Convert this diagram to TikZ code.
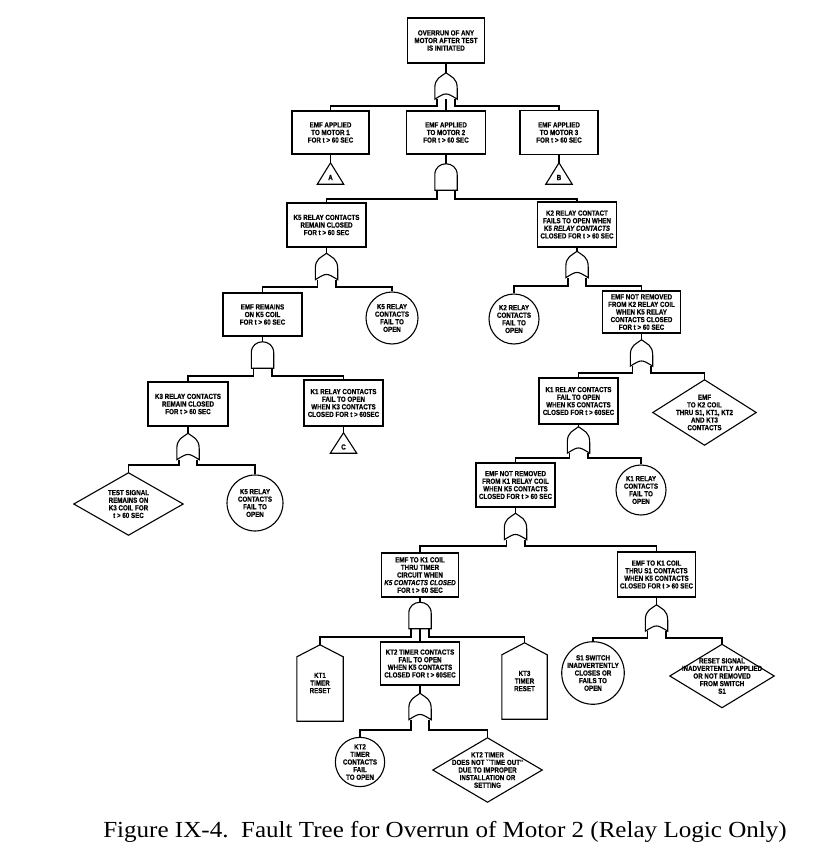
\documentclass[tikz,border=0pt]{standalone}
\usepackage{fontspec}
\setmainfont{Liberation Serif}
\newfontfamily\boxfont{Liberation Sans}[FakeStretch=0.84, FakeBold=0.5]
\newfontfamily\capfont{Liberation Serif}[FakeStretch=1.09]
\usetikzlibrary{calc}
\tikzset{
  every node/.style={font=\boxfont\bfseries\fontsize{7.4}{7.6}\selectfont, align=center, inner sep=0pt},
  evbox/.style 2 args={draw, line width=1.1pt, minimum width=#1, minimum height=#2},
  circ/.style={circle, draw, line width=1.1pt, minimum size=#1},
  frame/.style 2 args={minimum width=#1, minimum height=#2},
  shapeline/.style={line width=1.1pt, line join=miter},
  link/.style={line width=1.6pt},
  tlabel/.style={label={[yshift=-4pt]center:#1}}
}
\newcommand\orshape[1]{\draw[shapeline] (#1.south west) -- ($(#1.south west)+(0,-11)$) .. controls ($(#1.north west)+(0,5)$) and ($(#1.north)+(-5,4)$) .. (#1.north) .. controls ($(#1.north)+(5,4)$) and ($(#1.north east)+(0,5)$) .. ($(#1.south east)+(0,-11)$) -- (#1.south east) .. controls ($(#1.south)+(0,-7)$) .. (#1.south west) -- cycle;}
\newcommand\andshape[1]{\draw[shapeline] (#1.south west) -- ($(#1.north west)+(0,11)$) .. controls ($(#1.north west)+(0,-3.67)$) and ($(#1.north east)+(0,-3.67)$) .. ($(#1.north east)+(0,11)$) -- (#1.south east) -- cycle;}
\newcommand\houseshape[1]{\draw[shapeline] (#1.north) -- ($(#1.north east)+(0,12)$) -- (#1.south east) -- (#1.south west) -- ($(#1.north west)+(0,12)$) -- cycle;}
\newcommand\diashape[1]{\draw[shapeline] (#1.north) -- (#1.east) -- (#1.south) -- (#1.west) -- cycle;}
\newcommand\trishape[1]{\draw[shapeline] (#1.north) -- (#1.south east) -- (#1.south west) -- cycle;}
\newcommand\legs[4]{% gate, gap, left child, right child
  \draw[link] ($(#1.south west)+(2,0)$) -- ++(0,#2) -| (#3.north);
  \draw[link] ($(#1.south east)+(-2,0)$) -- ++(0,#2) -| (#4.north);}
\begin{document}
\begin{tikzpicture}[x=1pt,y=-1pt]
\useasboundingbox (0,0) rectangle (836,853);
% level 0
\node[evbox={77}{45}] (top) at (446,40.5) {OVERRUN OF ANY\\MOTOR AFTER TEST\\IS INITIATED};
\node[frame={22}{26}] (g0) at (446,86) {};
\orshape{g0}
\node[evbox={77}{43}] (m1) at (330.5,132.5) {EMF APPLIED\\TO MOTOR 1\\FOR t > 60 SEC};
\node[evbox={79}{43}] (m2) at (446,132.5) {EMF APPLIED\\TO MOTOR 2\\FOR t > 60 SEC};
\node[evbox={78}{44}] (m3) at (559,132.5) {EMF APPLIED\\TO MOTOR 3\\FOR t > 60 SEC};
\draw[link] (top.south) -- (g0.north);
\draw[link] (g0.south) -- (m2.north);
\legs{g0}{7}{m1}{m3}
\node[frame={26}{21}, tlabel=A] (ta) at (330.5,173.5) {};
\trishape{ta}
\node[frame={26}{21}, tlabel=B] (tb) at (559,173.5) {};
\trishape{tb}
\draw[link] (m1.south) -- (ta.north);
\draw[link] (m3.south) -- (tb.north);
\node[frame={22}{26}] (g1) at (446,177) {};
\andshape{g1}
\draw[link] (m2.south) -- (g1.north);
% level 2
\node[evbox={79}{44}] (k5) at (326.5,225) {K5 RELAY CONTACTS\\REMAIN CLOSED\\FOR t > 60 SEC};
\node[evbox={79}{45}] (k2) at (577,224.5) {K2 RELAY CONTACT\\FAILS TO OPEN WHEN\\K5 \textit{RELAY CONTACTS}\\CLOSED FOR t > 60 SEC};
\legs{g1}{9}{k5}{k2}
% left branch
\node[frame={22}{26}] (g2) at (326.5,266.5) {};
\orshape{g2}
\draw[link] (k5.south) -- (g2.north);
\node[evbox={79}{43}] (emf5) at (262.5,314.5) {EMF REMAINS\\ON K5 COIL\\FOR t > 60 SEC};
\node[circ=52] (c5a) at (392,318) {K5 RELAY\\CONTACTS\\FAIL TO\\OPEN};
\legs{g2}{7}{emf5}{c5a}
\node[frame={22}{26}] (g3) at (262.5,355) {};
\andshape{g3}
\draw[link] (emf5.south) -- (g3.north);
\node[evbox={80}{44}] (k3) at (188,404) {K3 RELAY CONTACTS\\REMAIN CLOSED\\FOR t > 60 SEC};
\node[evbox={79}{46}] (k1l) at (343.5,403) {K1 RELAY CONTACTS\\FAIL TO OPEN\\WHEN K3 CONTACTS\\CLOSED FOR t > 60SEC};
\legs{g3}{8}{k3}{k1l}
\node[frame={26}{20}, tlabel=C] (tc) at (343.5,443) {};
\trishape{tc}
\draw[link] (k1l.south) -- (tc.north);
\node[frame={22}{26}] (g4) at (188,446.5) {};
\orshape{g4}
\draw[link] (k3.south) -- (g4.north);
\node[frame={109}{62}] (dts) at (128.5,504) {TEST SIGNAL\\REMAINS ON\\K3 COIL FOR\\t > 60 SEC};
\diashape{dts}
\node[circ=56] (c5b) at (255,503) {K5 RELAY\\CONTACTS\\FAIL TO\\OPEN};
\legs{g4}{5}{dts}{c5b}
% right branch
\node[frame={22}{26}] (g5) at (577,264.5) {};
\orshape{g5}
\draw[link] (k2.south) -- (g5.north);
\node[circ=50] (c2) at (514,319) {K2 RELAY\\CONTACTS\\FAIL TO\\OPEN};
\node[evbox={78}{42}] (emfk2) at (641.5,312) {EMF NOT REMOVED\\FROM K2 RELAY COIL\\WHEN K5 RELAY\\CONTACTS CLOSED\\FOR t > 60 SEC};
\legs{g5}{8.5}{c2}{emfk2}
\node[frame={22}{26}] (g6) at (641.5,353) {};
\orshape{g6}
\draw[link] (emfk2.south) -- (g6.north);
\node[evbox={79}{46}] (k1r) at (578.5,401) {K1 RELAY CONTACTS\\FAIL TO OPEN\\WHEN K5 CONTACTS\\CLOSED FOR t > 60SEC};
\node[frame={103}{65}] (demf) at (704.5,412.5) {EMF\\TO K2 COIL\\THRU S1, KT1, KT2\\AND KT3\\CONTACTS};
\diashape{demf}
\legs{g6}{7}{k1r}{demf}
\node[frame={22}{26}] (g7) at (578.5,440) {};
\orshape{g7}
\draw[link] (k1r.south) -- (g7.north);
\node[evbox={79}{44}] (emfk1) at (515.5,485) {EMF NOT REMOVED\\FROM K1 RELAY COIL\\WHEN K5 CONTACTS\\CLOSED FOR t > 60 SEC};
\node[circ=50] (c1) at (641,490) {K1 RELAY\\CONTACTS\\FAIL TO\\OPEN};
\legs{g7}{5}{emfk1}{c1}
\node[frame={22}{26}] (g8) at (515.5,526.5) {};
\orshape{g8}
\draw[link] (emfk1.south) -- (g8.north);
\node[evbox={77}{44}] (emft) at (420,575) {EMF TO K1 COIL\\THRU TIMER\\CIRCUIT WHEN\\\textit{K5 CONTACTS CLOSED}\\FOR t > 60 SEC};
\node[evbox={78}{45}] (emfs) at (656.5,574.5) {EMF TO K1 COIL\\THRU S1 CONTACTS\\WHEN K5 CONTACTS\\CLOSED FOR t > 60 SEC};
\legs{g8}{6.5}{emft}{emfs}
% timer branch
\node[frame={22}{26}] (g9) at (420,615.5) {};
\andshape{g9}
\draw[link] (emft.south) -- (g9.north);
\node[frame={46}{76}] (kt1) at (320,683) {KT1\\TIMER\\RESET};
\houseshape{kt1}
\node[evbox={79}{43}] (kt2) at (420,663.5) {KT2 TIMER CONTACTS\\FAIL TO OPEN\\WHEN K5 CONTACTS\\CLOSED FOR t > 60SEC};
\node[frame={45}{76}] (kt3) at (524.5,681) {KT3\\TIMER\\RESET};
\houseshape{kt3}
\draw[link] (g9.south) -- (kt2.north);
\legs{g9}{8.5}{kt1}{kt3}
\node[frame={22}{26}] (g10) at (420,706.5) {};
\orshape{g10}
\draw[link] (kt2.south) -- (g10.north);
\node[circ=46] (ckt2) at (360,762) {KT2\\TIMER\\CONTACTS\\FAIL\\TO OPEN};
\node[frame={109}{64}] (dkt2) at (487.5,770) {KT2 TIMER\\DOES NOT ``TIME OUT''\\DUE TO IMPROPER\\INSTALLATION OR\\SETTING};
\diashape{dkt2}
\legs{g10}{10}{ckt2}{dkt2}
% S1 branch
\node[frame={22}{26}] (g11) at (656.5,618) {};
\orshape{g11}
\draw[link] (emfs.south) -- (g11.north);
\node[circ=54] (cs1) at (593,673) {S1 SWITCH\\INADVERTENTLY\\CLOSES OR\\FAILS TO\\OPEN};
\node[frame={104}{63}] (dres) at (722,676) {RESET SIGNAL\\INADVERTENTLY APPLIED\\OR NOT REMOVED\\FROM SWITCH\\S1};
\diashape{dres}
\legs{g11}{7}{cs1}{dres}
% caption
\node[font=\capfont\fontsize{23}{26}\selectfont, anchor=base] (cap) at (445,837) {Figure IX-4.\ \ Fault Tree for Overrun of Motor 2 (Relay Logic Only)};
\end{tikzpicture}
\end{document}
